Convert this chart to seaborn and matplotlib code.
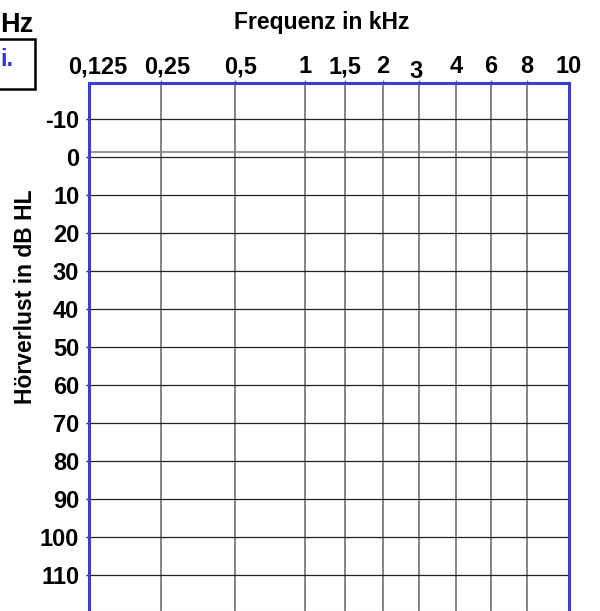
import matplotlib
matplotlib.use('Agg')
import matplotlib.pyplot as plt
import matplotlib.transforms as mtransforms
from matplotlib.patches import Rectangle
import seaborn as sns

# audiogram columns (kHz) and their slot on the frequency axis
freq_labels = ['0,125', '0,25', '0,5', '1', '1,5', '2', '3', '4', '6', '8', '10']
freq_slot = [0, 1.95, 3.95, 5.85, 6.93, 7.96, 8.94, 9.94, 10.89, 11.86, 13]

# hearing level rows (dB HL)
hl_levels = [-10, 0, 10, 20, 30, 40, 50, 60, 70, 80, 90, 100, 110]
hl_labels = [str(v) for v in hl_levels]
double_line = -1.5  # second line just above 0 dB

sns.set_theme(style='white')
plt.rcParams['font.family'] = ['Liberation Sans', 'DejaVu Sans']
plt.rcParams['font.weight'] = 'bold'
plt.rcParams['text.color'] = 'black'

fig = plt.figure(figsize=(6, 6.11), dpi=100)
W, H = 600, 611
ax = fig.add_axes([89 / W, -0.5 / H, 480 / W, 528.2 / H])
ax.set_xlim(freq_slot[0], freq_slot[-1])
ax.set_ylim(119.5, -19.5)

for x in freq_slot[1:-1]:
    ax.axvline(x, color='#6e6e6e', lw=1.2, zorder=1)
for y in hl_levels:
    ax.axhline(y, color='#222222', lw=0.9, zorder=1)
ax.axhline(double_line, color='#858585', lw=1.2, zorder=1)

ax.set_yticks(hl_levels)
ax.set_yticklabels(hl_labels, fontsize=17, fontweight='bold')
ax.tick_params(axis='y', left=True, length=2, width=1, color='#222222',
               labelcolor='black', pad=5)

# short stubs of the column lines poke above the top border
ax.set_xticks(freq_slot[1:-1])
ax.set_xticklabels([])
ax.tick_params(axis='x', bottom=False, top=True, length=2, width=1, color='#6e6e6e')

# frequency labels sit above the chart, a few of them a bit off their line
nudge = {'0,125': (9, 0), '0,25': (6, 0), '0,5': (6, 0), '3': (-3, -5)}
base = mtransforms.blended_transform_factory(ax.transData, ax.transAxes)
for lab, x in zip(freq_labels, freq_slot):
    dx, dy = nudge.get(lab, (0, 0))
    tr = base + mtransforms.ScaledTranslation(dx / 100, (10 + dy) / 100, fig.dpi_scale_trans)
    ax.text(x, 1, lab, transform=tr, ha='center', va='baseline',
            fontsize=17, fontweight='bold', clip_on=False)

for side in ['left', 'top', 'right']:
    ax.spines[side].set_color('#3c3cd6')
    ax.spines[side].set_linewidth(2.2)
ax.spines['bottom'].set_color('#8c8ce6')
ax.spines['bottom'].set_linewidth(1.5)

fig.text(322 / W, 1 - 29 / H, 'Frequenz in kHz', ha='center', va='baseline',
         fontsize=16.5, fontweight='bold')
fig.text(26 / W, 1 - 297 / H, 'Hörverlust in dB HL', rotation=90,
         ha='center', va='center', fontsize=16.5, fontweight='bold')

# cut-off pieces at the top left of the form
fig.text(0, 1 - 32 / H, 'Hz', ha='left', va='baseline', fontsize=19.5, fontweight='bold')
fig.add_artist(Rectangle((-10 / W, 1 - 89 / H), 44.5 / W, 50 / H,
                         transform=fig.transFigure, fill=False, ec='black', lw=1.8))
fig.text(0, 1 - 66 / H, 'i.', ha='left', va='baseline', color='#3535d5',
         fontsize=17, fontweight='bold')

fig.savefig('out.png', dpi=100)
